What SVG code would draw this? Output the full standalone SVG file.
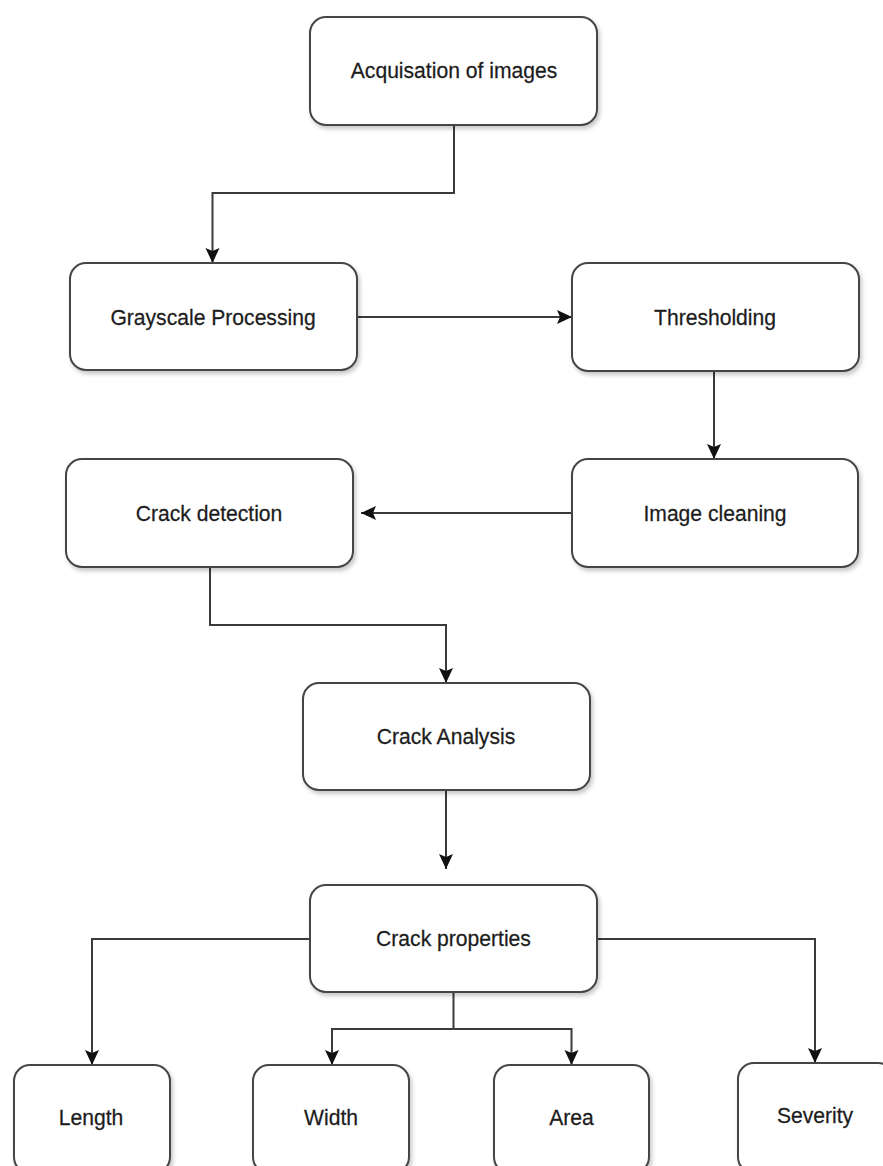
<svg xmlns="http://www.w3.org/2000/svg" width="883" height="1166" viewBox="0 0 883 1166">
<style>
.box{fill:#ffffff;stroke:#444444;stroke-width:2;filter:url(#sh)}
.lbl{font-family:"Liberation Sans",Arial,sans-serif;font-size:22px;fill:#1c1c1c;stroke:#1c1c1c;stroke-width:0.25;text-anchor:middle}
.ln{fill:none;stroke:#3a3a3a;stroke-width:2}
.arr{marker-end:url(#ah)}
</style>
<defs>
<filter id="sh" x="-10%" y="-10%" width="130%" height="130%">
<feDropShadow dx="2" dy="3" stdDeviation="2" flood-color="#000000" flood-opacity="0.22"/>
</filter>
<marker id="ah" markerUnits="userSpaceOnUse" markerWidth="16" markerHeight="16" refX="15" refY="7" orient="auto">
<path d="M0,0 L15,7 L0,14 L3,7 Z" fill="#111111"/>
</marker>
</defs>
<rect width="883" height="1166" fill="#ffffff"/>
<g id="connectors">
<path class="ln arr" d="M454,125 V193 H212.5 V263"/>
<path class="ln arr" d="M357,317 H572"/>
<path class="ln arr" d="M714,371 V459"/>
<path class="ln arr" d="M572,513 H361"/>
<path class="ln arr" d="M210,567 V625 H446 V683"/>
<path class="ln arr" d="M446,790 V869"/>
<path class="ln arr" d="M310,939 H92 V1065"/>
<path class="ln arr" d="M597,939 H815 V1063"/>
<path class="ln" d="M453.5,992 V1029"/>
<path class="ln arr" d="M453.5,1029 H332 V1065"/>
<path class="ln arr" d="M453.5,1029 H571.5 V1065"/>
</g>
<g id="acquisation">
<rect class="box" x="310" y="17" width="287" height="108" rx="16"/>
<text class="lbl" transform="matrix(0.96,0,0,1,454,78)">Acquisation of images</text>
</g>
<g id="grayscale">
<rect class="box" x="70" y="263" width="287" height="107" rx="16"/>
<text class="lbl" transform="matrix(0.96,0,0,1,213,325)">Grayscale Processing</text>
</g>
<g id="thresholding">
<rect class="box" x="572" y="263" width="287" height="108" rx="16"/>
<text class="lbl" transform="matrix(0.96,0,0,1,715,325)">Thresholding</text>
</g>
<g id="image-cleaning">
<rect class="box" x="572" y="459" width="286" height="108" rx="16"/>
<text class="lbl" transform="matrix(0.96,0,0,1,715,521)">Image cleaning</text>
</g>
<g id="crack-detection">
<rect class="box" x="66" y="459" width="287" height="108" rx="16"/>
<text class="lbl" transform="matrix(0.96,0,0,1,209,521)">Crack detection</text>
</g>
<g id="crack-analysis">
<rect class="box" x="303" y="683" width="287" height="107" rx="16"/>
<text class="lbl" transform="matrix(0.96,0,0,1,446,744)">Crack Analysis</text>
</g>
<g id="crack-properties">
<rect class="box" x="310" y="885" width="287" height="107" rx="16"/>
<text class="lbl" transform="matrix(0.96,0,0,1,453.5,946)">Crack properties</text>
</g>
<g id="length">
<rect class="box" x="14" y="1065" width="156" height="108" rx="16"/>
<text class="lbl" transform="matrix(0.96,0,0,1,91,1125)">Length</text>
</g>
<g id="width">
<rect class="box" x="253" y="1065" width="156" height="108" rx="16"/>
<text class="lbl" transform="matrix(0.96,0,0,1,331,1125)">Width</text>
</g>
<g id="area">
<rect class="box" x="494" y="1065" width="155" height="108" rx="16"/>
<text class="lbl" transform="matrix(0.96,0,0,1,571.5,1125)">Area</text>
</g>
<g id="severity">
<rect class="box" x="738" y="1063" width="156" height="110" rx="16"/>
<text class="lbl" transform="matrix(0.96,0,0,1,815,1123)">Severity</text>
</g>
</svg>
